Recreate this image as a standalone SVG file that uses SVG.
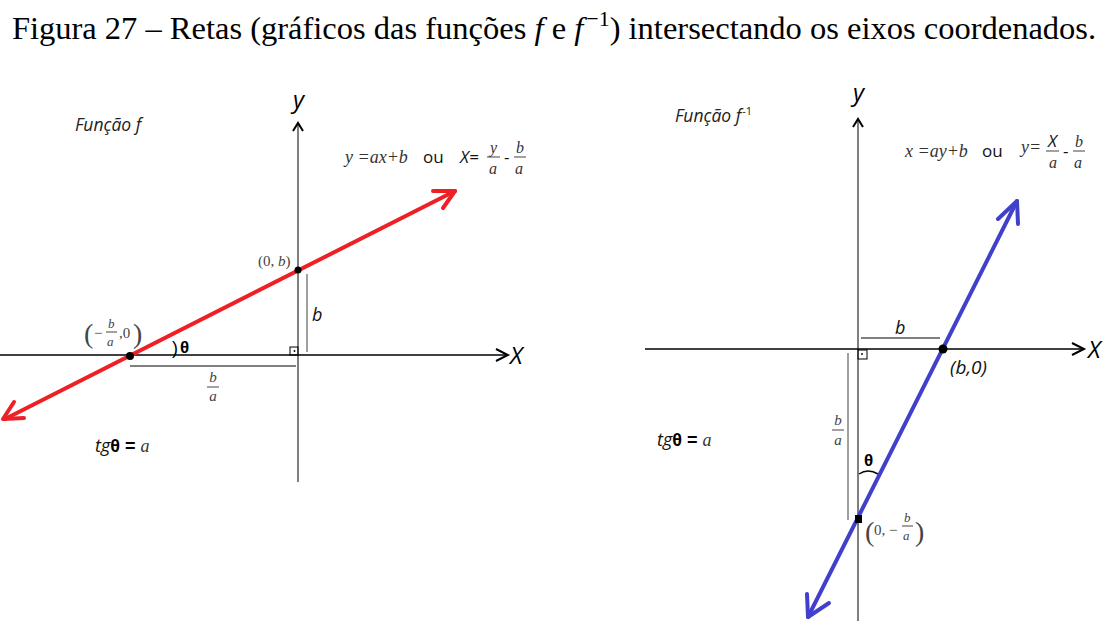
<svg xmlns="http://www.w3.org/2000/svg" width="1110" height="621" viewBox="0 0 1110 621">
<style>
.title{font-family:"Liberation Serif",serif;font-size:32.5px;fill:#000}
.lbl{font-family:"Open Sans","Liberation Sans",sans-serif;font-style:italic;font-size:17.5px;fill:#222}
.axl{font-family:"Open Sans","Liberation Sans",sans-serif;font-style:italic;font-size:24px;fill:#000}
.math{font-family:"Liberation Serif",serif;font-style:italic;font-size:18px;fill:#333}
.mathn{font-family:"Liberation Serif",serif;font-size:15px;fill:#444}
.sans{font-family:"Open Sans","Liberation Sans",sans-serif;font-size:17px;fill:#111}
.th{font-family:"Liberation Sans",sans-serif;font-weight:bold;font-size:17px;fill:#000}
.yax{stroke:#808080;stroke-width:2;fill:none}
.xax{stroke:#000;stroke-width:1.5;fill:none}
.head{stroke:#000;stroke-width:2;fill:none}
.red{stroke:#ee2026;stroke-width:4;fill:none;stroke-linecap:round;stroke-linejoin:round}
.blue{stroke:#4040cc;stroke-width:4;fill:none;stroke-linecap:round;stroke-linejoin:round}
.thin{stroke:#000;stroke-width:1.2;fill:none}
.gray{stroke:#808080;stroke-width:1.5;fill:none}
.fl{stroke:#444;stroke-width:1;fill:none}
</style>
<text class="title" x="554" y="39" text-anchor="middle">Figura 27 – Retas (gráficos das funções <tspan font-style="italic">f</tspan> e <tspan font-style="italic">f</tspan><tspan style="font-size:22px" dx="3" dy="-13">−1</tspan><tspan dy="13">) intersectando os eixos coordenados.</tspan></text>

<g id="left-axes">
<line class="yax" x1="298" y1="124" x2="298" y2="482"/>
<polyline class="head" points="293,131 298,123 303,131"/>
<text class="axl" x="293" y="108">y</text>
<line class="xax" x1="0" y1="355" x2="506" y2="355"/>
<polyline class="head" points="496,349 508,355 496,361"/>
<text class="axl" x="510" y="364">X</text>
</g>

<g id="left-labels">
<text class="lbl" x="75" y="131">Função f</text>
<text class="math" x="345" y="163">y =ax+b</text>
<text class="sans" x="423" y="163">ou</text>
<text class="sans" x="460" y="163" style="font-style:italic">X=</text>
<text class="math" x="490" y="153" style="font-size:16px">y</text>
<line class="fl" x1="487" y1="157" x2="500" y2="157"/>
<text class="math" x="489" y="174" style="font-size:16px">a</text>
<text class="sans" x="504" y="163">-</text>
<text class="math" x="516" y="153" style="font-size:16px">b</text>
<line class="fl" x1="514" y1="157" x2="526" y2="157"/>
<text class="math" x="515" y="174" style="font-size:16px">a</text>
<text x="95" y="452"><tspan class="sans" style="font-style:italic;font-size:18px">tg</tspan><tspan class="th" style="font-size:18px">θ = </tspan><tspan class="math" style="font-size:18px">a</tspan></text>
</g>

<g id="left-measures">
<line class="gray" x1="307" y1="274" x2="307" y2="352"/>
<text class="sans" x="312" y="321" style="font-style:italic;font-size:18px">b</text>
<rect x="290" y="347" width="8" height="8" fill="none" stroke="#000" stroke-width="1"/>
<circle cx="294.5" cy="351" r="0.9" fill="#000"/>
<line class="thin" x1="130" y1="366" x2="296" y2="366"/>
<text class="mathn" x="213" y="382" text-anchor="middle" style="font-style:italic">b</text>
<line class="fl" x1="207" y1="387" x2="219" y2="387"/>
<text class="mathn" x="213" y="401" text-anchor="middle" style="font-style:italic">a</text>
<text class="th" x="172" y="354" style="font-weight:normal;font-size:18px">)</text>
<text class="th" x="180" y="353">θ</text>
<text class="mathn" x="258" y="266">(0, <tspan style="font-style:italic">b</tspan>)</text>
<text class="mathn" x="84" y="343" style="font-size:28px">(</text>
<text class="mathn" x="94" y="338">−</text>
<text class="mathn" x="108" y="328" style="font-style:italic;font-size:13px">b</text>
<line class="fl" x1="106" y1="332" x2="117" y2="332"/>
<text class="mathn" x="107" y="346" style="font-style:italic;font-size:13px">a</text>
<text class="mathn" x="119" y="338">,0</text>
<text class="mathn" x="133" y="343" style="font-size:28px">)</text>
</g>

<g id="left-line">
<line class="red" x1="5" y1="419" x2="455" y2="191"/>
<polyline class="red" points="433,191 455,191 443,208"/>
<polyline class="red" points="14,402 3,419 24,418"/>
<circle cx="130" cy="356" r="4" fill="#000"/>
<circle cx="298" cy="270" r="3.5" fill="#000"/>
</g>

<g id="right-axes">
<line class="yax" x1="858" y1="120" x2="858" y2="621"/>
<polyline class="head" points="853,127 858,119 863,127"/>
<text class="axl" x="853" y="101">y</text>
<line class="xax" x1="645" y1="349" x2="1083" y2="349"/>
<polyline class="head" points="1072,343 1084,349 1072,355"/>
<text class="axl" x="1088" y="358">X</text>
</g>

<g id="right-labels">
<text class="lbl" x="675" y="122">Função f<tspan style="font-size:11px;font-style:normal" dx="1" dy="-7">-1</tspan></text>
<text class="math" x="905" y="157">x =ay+b</text>
<text class="sans" x="982" y="157">ou</text>
<text class="math" x="1021" y="153">y=</text>
<text class="sans" x="1048" y="147" style="font-style:italic">X</text>
<line class="fl" x1="1046" y1="151" x2="1059" y2="151"/>
<text class="math" x="1049" y="168" style="font-size:16px">a</text>
<text class="sans" x="1063" y="157">-</text>
<text class="math" x="1075" y="147" style="font-size:16px">b</text>
<line class="fl" x1="1073" y1="151" x2="1085" y2="151"/>
<text class="math" x="1074" y="168" style="font-size:16px">a</text>
<text x="657" y="446"><tspan class="sans" style="font-style:italic;font-size:18px">tg</tspan><tspan class="th" style="font-size:18px">θ = </tspan><tspan class="math" style="font-size:18px">a</tspan></text>
</g>

<g id="right-measures">
<line class="thin" x1="861" y1="338" x2="940" y2="338"/>
<text class="sans" x="895" y="334" style="font-style:italic;font-size:18px">b</text>
<rect x="858" y="350" width="9" height="9" fill="none" stroke="#000" stroke-width="1"/>
<circle cx="862" cy="354" r="0.9" fill="#000"/>
<line class="gray" x1="848" y1="353" x2="848" y2="520"/>
<text class="mathn" x="838" y="425" text-anchor="middle" style="font-style:italic">b</text>
<line class="fl" x1="832" y1="430" x2="844" y2="430"/>
<text class="mathn" x="838" y="445" text-anchor="middle" style="font-style:italic">a</text>
<text class="th" x="864" y="466">θ</text>
<path d="M859,474 Q868,468 878,474" fill="none" stroke="#000" stroke-width="1.5"/>
<text class="sans" x="950" y="374" style="font-style:italic;font-size:19px">(b,0)</text>
<text class="mathn" x="865" y="541" style="font-size:28px">(</text>
<text class="mathn" x="874" y="535">0, −</text>
<text class="mathn" x="904" y="522" style="font-style:italic;font-size:13px">b</text>
<line class="fl" x1="902" y1="526" x2="913" y2="526"/>
<text class="mathn" x="903" y="540" style="font-style:italic;font-size:13px">a</text>
<text class="mathn" x="915" y="541" style="font-size:28px">)</text>
</g>

<g id="right-line">
<line class="blue" x1="808" y1="617" x2="1017" y2="201"/>
<polyline class="blue" points="998,219 1017,201 1018,224"/>
<polyline class="blue" points="807,594 808,617 829,603"/>
<circle cx="943" cy="349" r="4.5" fill="#000"/>
<rect x="855" y="515" width="7" height="8" fill="#000"/>
</g>
</svg>
